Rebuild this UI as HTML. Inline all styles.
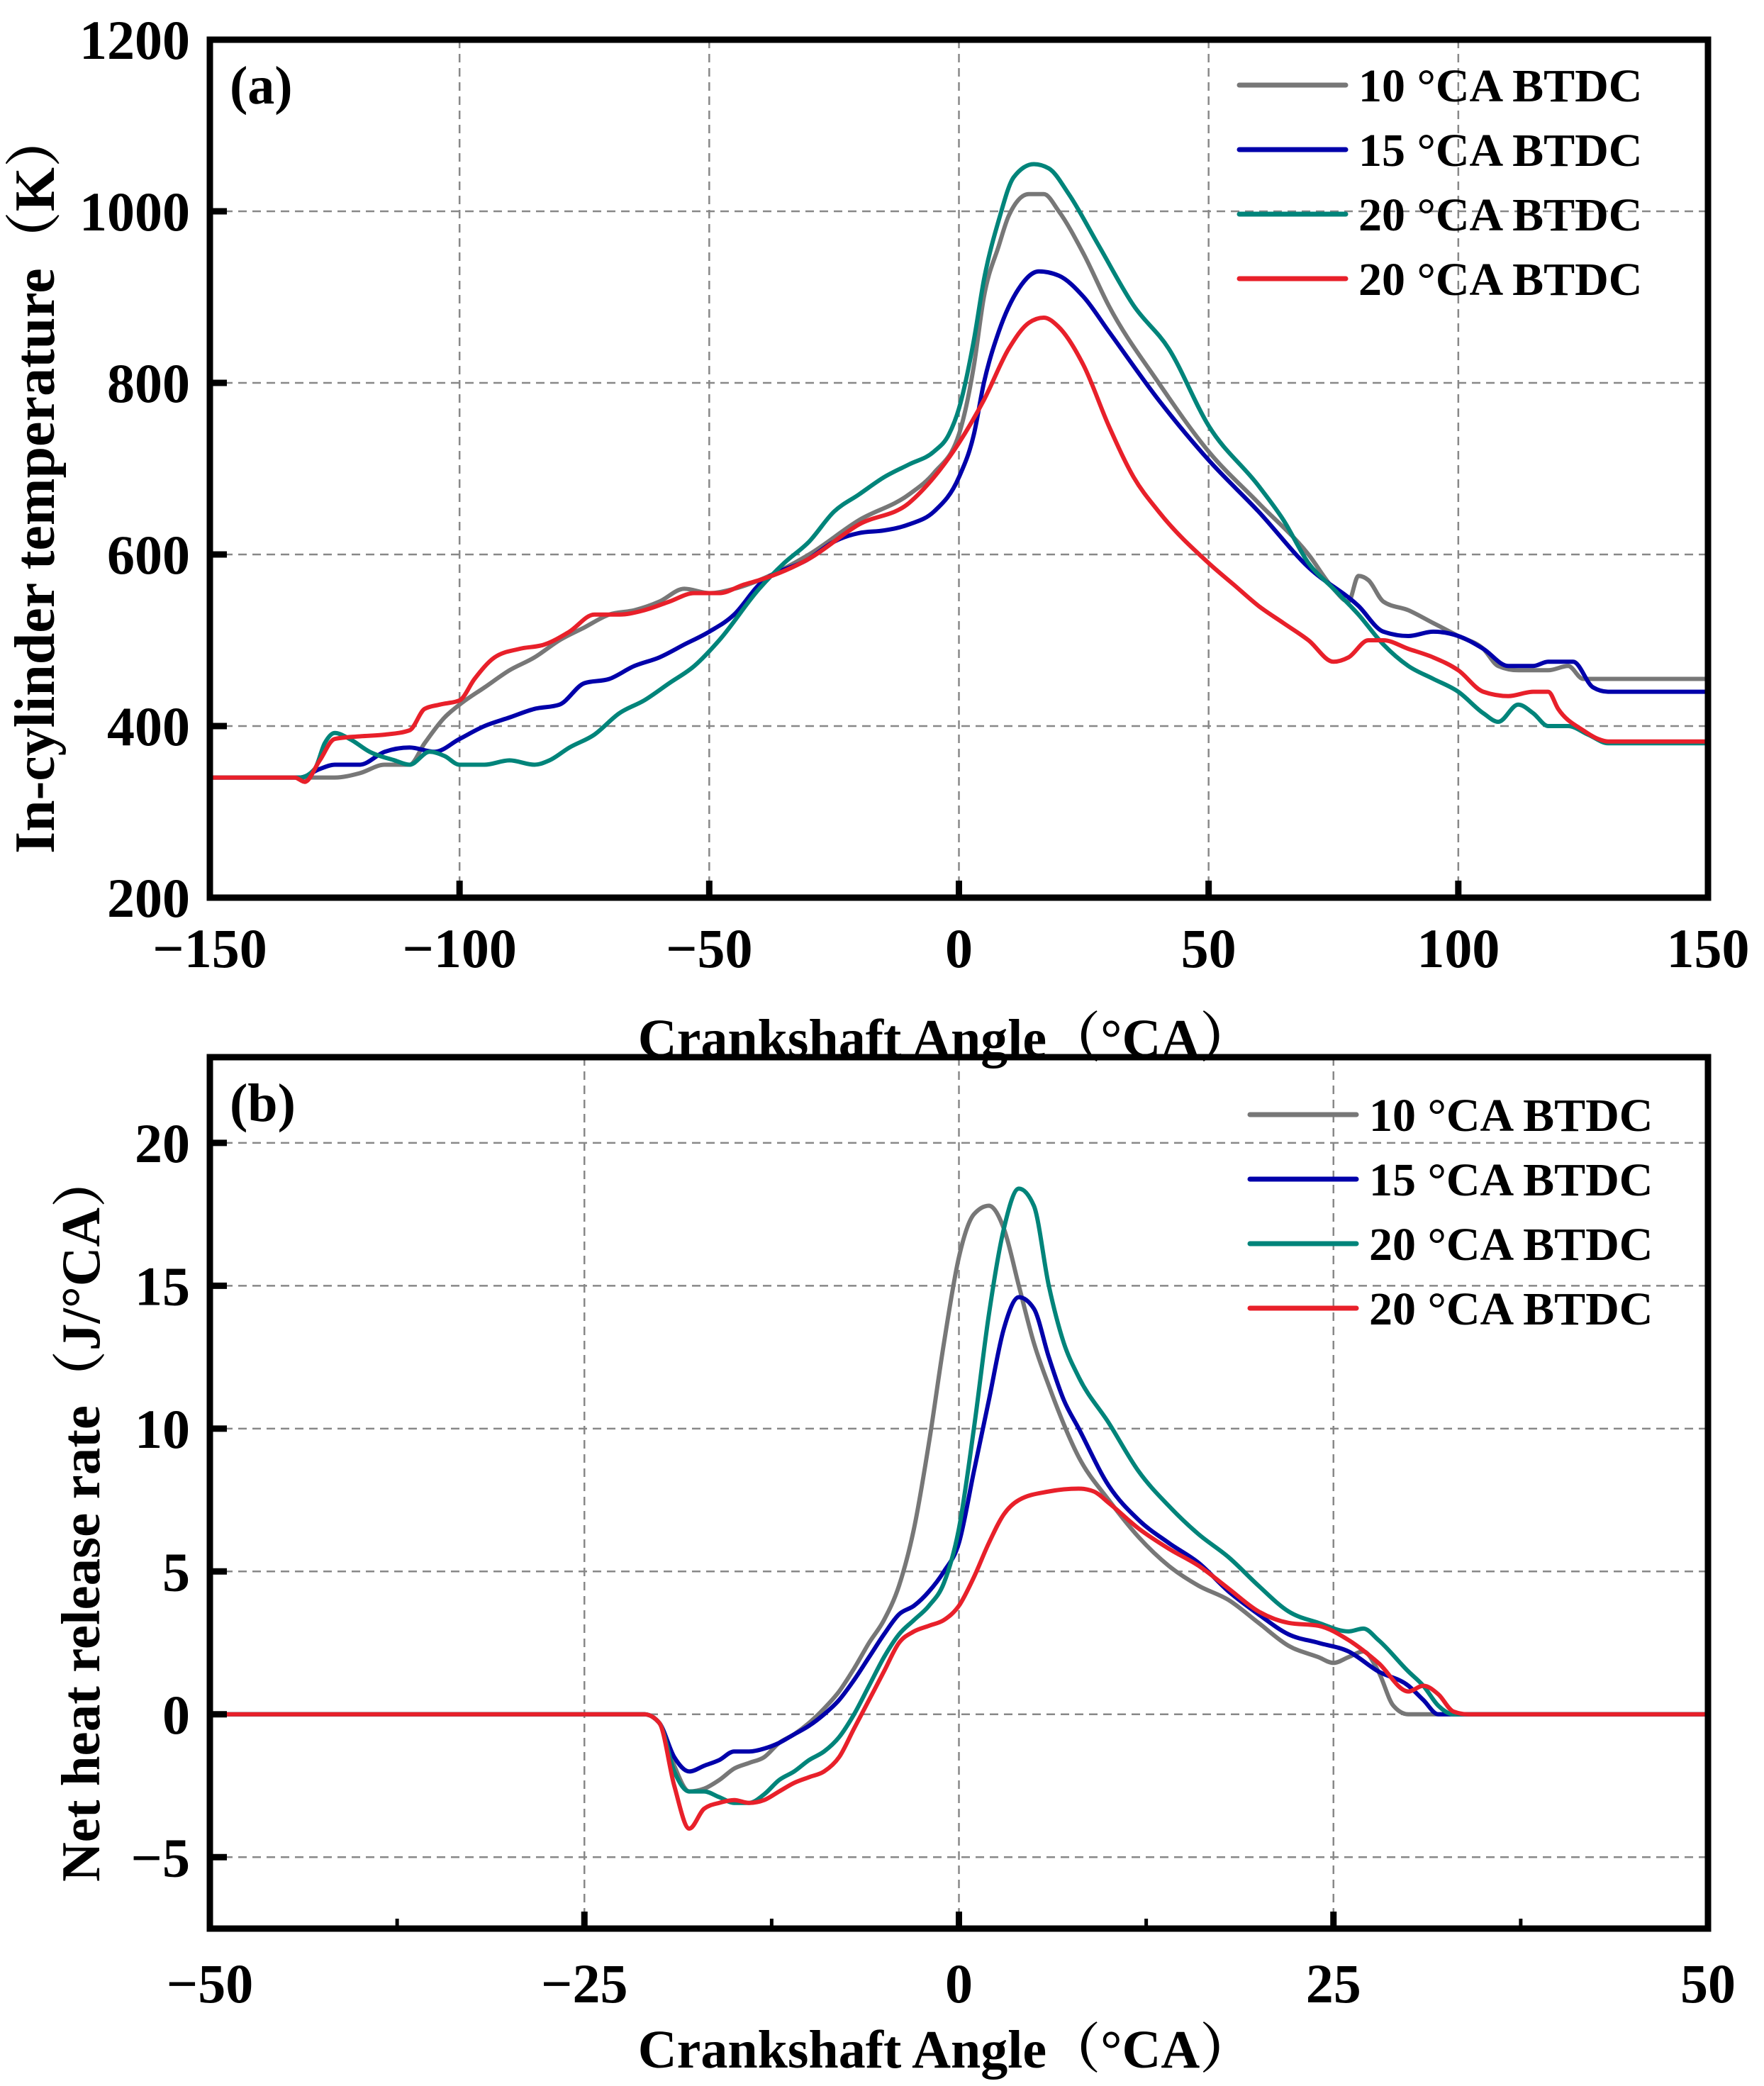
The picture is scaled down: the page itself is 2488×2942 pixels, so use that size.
<!DOCTYPE html>
<html><head><meta charset="utf-8"><style>
html,body{margin:0;padding:0;background:#fff;}
svg{display:block;font-family:"Liberation Serif","Noto Serif CJK SC",serif;font-weight:bold;}
</style></head><body>
<svg id="chart" width="2488" height="2942" viewBox="0 0 2488 2942" xmlns="http://www.w3.org/2000/svg"></svg>
<script>
// ---- Panel (a) data ----
const seriesNames = ["10 °CA BTDC","15 °CA BTDC","20 °CA BTDC","20 °CA BTDC"];
const seriesColors = ["#777777","#0000aa","#00847a","#e8202a"];
const aXTicks = [-150,-100,-50,0,50,100,150];
const aYTicks = [200,400,600,800,1000,1200];
const aGrayX = [-150,-132,-125,-120,-115,-110,-107,-103,-100,-95,-90,-85,-80,-75,-70,-65,-60,-55,-50,-45,-40,-30,-20,-10,-5,0,3,5,8,10,14,17,20,25,30,40,50,60,70,75,78,80,82,85,90,95,100,105,108,112,118,122,125,130,150];
const aGrayY = [340,340,340,345,355,355,380,410,425,445,465,480,500,515,530,535,545,560,555,560,570,600,640,670,695,740,820,900,960,995,1020,1020,1000,950,890,800,720,660,600,560,545,575,570,545,535,520,505,490,470,465,465,470,455,455,455];
const aBlueX = [-150,-132,-128,-125,-120,-115,-110,-105,-100,-95,-90,-85,-80,-75,-70,-65,-60,-55,-50,-45,-40,-30,-25,-20,-15,-10,-5,0,3,5,8,12,16,20,25,30,40,50,60,70,80,85,90,95,100,105,110,115,118,123,127,130,150];
const aBlueY = [340,340,350,355,355,370,375,370,385,400,410,420,425,450,455,470,480,495,510,530,565,595,615,625,628,635,650,690,740,800,860,910,930,925,900,860,780,710,650,585,540,510,505,510,505,490,470,470,475,475,445,440,440];
const aTealX = [-150,-132,-129,-127,-125,-122,-118,-113,-110,-106,-103,-100,-95,-90,-85,-82,-78,-73,-68,-63,-58,-53,-48,-40,-35,-30,-25,-20,-15,-10,-5,-2,0,3,5,8,11,15,18,22,28,35,42,50,60,65,70,75,80,85,90,95,100,105,108,112,115,118,122,126,130,150];
const aTealY = [340,340,350,380,392,385,370,360,355,370,365,355,355,360,355,360,375,390,415,430,450,470,500,560,590,615,650,670,690,705,720,740,770,850,920,990,1040,1055,1050,1020,960,890,840,750,680,640,590,560,530,495,470,455,440,415,405,425,415,400,400,390,380,380];
const aRedX = [-150,-133,-131,-128,-125,-120,-115,-110,-107,-104,-100,-97,-93,-88,-83,-78,-73,-68,-63,-58,-53,-48,-43,-40,-30,-20,-10,-5,0,5,10,14,17,20,25,30,35,40,50,55,60,65,70,75,78,82,85,90,95,100,105,110,115,118,120,125,128,130,150];
const aRedY = [340,340,335,360,385,388,390,395,420,425,430,455,480,490,495,510,530,530,535,545,555,555,565,570,595,635,660,690,730,780,840,870,876,865,820,750,690,650,590,565,540,520,500,475,480,500,500,490,480,465,440,435,440,440,420,395,385,382,382];
// ---- Panel (b) data ----
const bXTicks = [-50,-25,0,25,50];
const bXMinor = [-37.5,-12.5,12.5,37.5];
const bYTicks = [-5,0,5,10,15,20];
const bGrayX = [-50,-21,-20,-19,-18,-17,-16,-15,-14,-13,-12,-11,-10,-9,-8,-7,-6,-5,-4,-3,-2,-1,0,1,2,3,4,5,6,8,10,12,14,16,18,20,22,24,25,26,27,28,29,30,50];
const bGrayY = [0,0,-0.3,-1.8,-2.7,-2.6,-2.3,-1.9,-1.7,-1.5,-1,-0.7,-0.3,0.2,0.8,1.6,2.5,3.3,4.5,6.5,9.5,13,16,17.5,17.8,17,15,13,11.5,9,7.5,6.2,5.2,4.5,4,3.2,2.4,2,1.8,2,2.2,1.5,0.3,0,0];
const bBlueX = [-50,-21,-20,-19,-18,-17,-16,-15,-14,-13,-12,-11,-10,-9,-8,-7,-6,-5,-4,-3,-2,-1,0,1,2,3,4,5,6,7,8,10,12,14,16,18,20,22,24,26,28,30,31,32,50];
const bBlueY = [0,0,-0.3,-1.5,-2.0,-1.8,-1.6,-1.3,-1.3,-1.2,-1.0,-0.7,-0.4,0,0.5,1.2,2,2.8,3.5,3.8,4.3,5,6,8.5,11,13.5,14.6,14.2,12.5,11,10,8,6.8,6,5.3,4.3,3.5,2.8,2.5,2.2,1.5,1,0.5,0,0];
const bTealX = [-50,-21,-20,-19,-18,-17,-16,-15,-14,-13,-12,-11,-10,-9,-8,-7,-6,-5,-4,-3,-2,-1,0,1,2,3,4,5,6,7,8,10,12,14,16,18,20,22,24,26,27,28,30,31,32,33,50];
const bTealY = [0,0,-0.3,-2,-2.7,-2.7,-2.9,-3.1,-3.1,-2.8,-2.3,-2,-1.6,-1.3,-0.8,0,1,2,2.8,3.3,3.8,4.6,6.5,10,14,17,18.4,17.8,15,13,11.8,10.2,8.5,7.3,6.3,5.5,4.5,3.6,3.2,2.9,3,2.6,1.5,1,0.3,0,0];
const bRedX = [-50,-21,-20,-19,-18,-17,-16,-15,-14,-13,-12,-11,-10,-9,-8,-7,-6,-5,-4,-3,-2,-1,0,1,2,3,4,6,8,9,10,12,14,16,18,20,22,24,26,28,30,31,32,33,34,50];
const bRedY = [0,0,-0.3,-2.5,-4.0,-3.3,-3.1,-3.0,-3.1,-3.0,-2.7,-2.4,-2.2,-2,-1.5,-0.5,0.5,1.5,2.5,2.9,3.1,3.3,3.8,4.8,6,7,7.5,7.8,7.9,7.8,7.4,6.5,5.8,5.2,4.4,3.6,3.2,3.1,2.6,1.8,0.8,1,0.7,0.1,0,0];

const NS = "http://www.w3.org/2000/svg";
const svg = document.getElementById("chart");
function mk(tag, attrs, parent){
  const e = document.createElementNS(NS, tag);
  for (const k in attrs) e.setAttribute(k, attrs[k]);
  (parent||svg).appendChild(e);
  return e;
}
function scale(d0,d1,r0,r1){ return v => r0 + (v-d0)/(d1-d0)*(r1-r0); }
function sgn(v){ return v<0?-1:(v>0?1:0); }
// monotone-x cubic (no overshoot, no backtracking)
function smoothPath(P){
  const n = P.length, t = new Array(n);
  const h = [], s = [];
  for (let i=0;i<n-1;i++){ h[i]=P[i+1][0]-P[i][0]; s[i]=(P[i+1][1]-P[i][1])/h[i]; }
  for (let i=1;i<n-1;i++){
    const p=(s[i-1]*h[i]+s[i]*h[i-1])/(h[i-1]+h[i]);
    t[i]=(sgn(s[i-1])+sgn(s[i]))*Math.min(Math.abs(s[i-1]),Math.abs(s[i]),0.5*Math.abs(p));
  }
  t[0]=s[0]; t[n-1]=s[n-2];
  let d = "M"+P[0][0].toFixed(1)+","+P[0][1].toFixed(1);
  for (let i=0;i<n-1;i++){
    const dx=h[i]/3;
    d += " C"+(P[i][0]+dx).toFixed(1)+","+(P[i][1]+t[i]*dx).toFixed(1)+" "+(P[i+1][0]-dx).toFixed(1)+","+(P[i+1][1]-t[i+1]*dx).toFixed(1)+" "+P[i+1][0].toFixed(1)+","+P[i+1][1].toFixed(1);
  }
  return d;
}

function panel(cfg){
  const g = mk("g", {});
  
  
  const L=296, R=2409, T=cfg.top, B=cfg.bottom;
  const sx = scale(cfg.xmin,cfg.xmax,L,R), sy = scale(cfg.ymin,cfg.ymax,B,T);
  cfg.xTicks.forEach(v=>{
    if (v<=cfg.xmin||v>=cfg.xmax) return;
    const l = mk("line",{x1:sx(v),x2:sx(v),y1:T,y2:B,stroke:"#888","stroke-width":2.5,"stroke-dasharray":"12,8"},g);
    
    
  });
  cfg.yTicks.forEach(v=>{
    if (v<=cfg.ymin||v>=cfg.ymax) return;
    const l = mk("line",{x1:L,x2:R,y1:sy(v),y2:sy(v),stroke:"#888","stroke-width":2.5,"stroke-dasharray":"12,8"},g);
    
    
  });
  cfg.series.forEach((s,i)=>{
    const P = s[0].map((x,j)=>[sx(x), sy(s[1][j])]);
    const p = mk("path",{d:smoothPath(P),fill:"none",stroke:seriesColors[i],"stroke-width":6,"stroke-linejoin":"round","stroke-linecap":"round"},g);
    
    
  });
  const fr = mk("rect",{x:L,y:T,width:R-L,height:B-T,fill:"none",stroke:"#000","stroke-width":9},g);
  
  
  cfg.xTicks.forEach(v=>{
    const t = mk("line",{x1:sx(v),x2:sx(v),y1:B,y2:B-24,stroke:"#000","stroke-width":9},g);
    
    
    const tx = mk("text",{x:sx(v),y:cfg.xLabelY,"text-anchor":"middle","font-size":78},g);
    tx.textContent = v<0 ? "\u2212"+Math.abs(v) : String(v);
    
    
  });
  (cfg.xMinor||[]).forEach(v=>{
    const t = mk("line",{x1:sx(v),x2:sx(v),y1:B,y2:B-14,stroke:"#000","stroke-width":5},g);
    
    
  });
  cfg.yTicks.forEach(v=>{
    const t = mk("line",{x1:L,x2:L+24,y1:sy(v),y2:sy(v),stroke:"#000","stroke-width":9},g);
    
    
    const tx = mk("text",{x:268,y:sy(v)+27,"text-anchor":"end","font-size":78},g);
    tx.textContent = v<0 ? "\u2212"+Math.abs(v) : String(v);
    
    
  });
  const xt = mk("text",{x:1334,y:cfg.xTitleY,"text-anchor":"middle","font-size":76},g);
  xt.textContent = "Crankshaft Angle（°CA）";
  
  
  const yt = mk("text",{x:0,y:0,"text-anchor":"middle","font-size":cfg.yTitleSize,transform:`translate(${cfg.yTitleX},${cfg.yTitleY}) rotate(-90)`},g);
  yt.textContent = cfg.yTitle;
  
  
  const pl = mk("text",{x:324,y:T+90,"font-size":76},g);
  pl.textContent = cfg.label;
  
  
  seriesNames.forEach((n,i)=>{
    const y = cfg.legY + i*91;
    const ln = mk("line",{x1:cfg.legX,x2:cfg.legX+150,y1:y,y2:y,stroke:seriesColors[i],"stroke-width":7,"stroke-linecap":"round"},g);
    
    
    const tx = mk("text",{x:cfg.legX+168,y:y+23,"font-size":66},g);
    tx.textContent = n;
    
    
  });
}

panel({name:"panel-a-temperature",top:56,bottom:1266,xmin:-150,xmax:150,ymin:200,ymax:1200,
  xTicks:aXTicks,yTicks:aYTicks,xLabelY:1364,xTitleY:1490,yTitleX:76,yTitleY:680,yTitleSize:80,
  yTitle:"In-cylinder temperature（K）",label:"(a)",legX:1748,legY:120,
  series:[[aGrayX,aGrayY],[aBlueX,aBlueY],[aTealX,aTealY],[aRedX,aRedY]]});
panel({name:"panel-b-heat-release",top:1491,bottom:2720,xmin:-50,xmax:50,ymin:-7.5,ymax:23,
  xTicks:bXTicks,xMinor:bXMinor,yTicks:bYTicks,xLabelY:2824,xTitleY:2916,yTitleX:140,yTitleY:2140,yTitleSize:77,
  yTitle:"Net heat release rate（J/°CA）",label:"(b)",legX:1763,legY:1572,
  series:[[bGrayX,bGrayY],[bBlueX,bBlueY],[bTealX,bTealY],[bRedX,bRedY]]});
</script>
</body></html>
